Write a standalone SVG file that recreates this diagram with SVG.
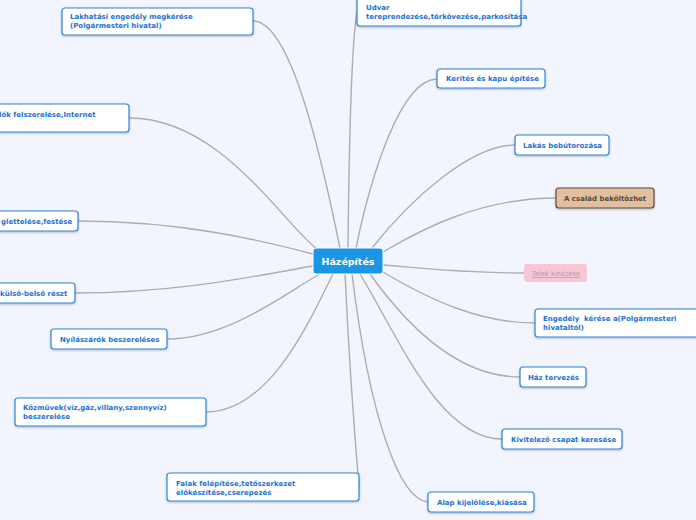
<svg xmlns="http://www.w3.org/2000/svg" width="696" height="520" viewBox="0 0 696 520">
<defs>
<filter id="sh" x="-10%" y="-30%" width="120%" height="170%">
<feDropShadow dx="0" dy="1" stdDeviation="0.8" flood-color="#000" flood-opacity="0.25"/>
</filter>
<style>
.n rect{fill:#fff;stroke:#2f84dc;stroke-width:1.2;filter:url(#sh)}
.n text{font-family:"DejaVu Sans",Verdana,sans-serif;font-weight:bold;font-size:7px;fill:#1d72d6}
.c path{fill:none;stroke:#adadb0;stroke-width:1.4}
</style>
</defs>
<rect width="696" height="520" fill="#f2f5fd"/>
<g class="c" id="connectors">
<path d="M253,21 C290,21 320,150 340,248"/>
<path d="M129,118 C220,118 280,220 318,250"/>
<path d="M78,221 C180,221 260,240 313,254"/>
<path d="M75,293 C180,293 260,275 313,266"/>
<path d="M167,339 C230,339 290,290 320,274"/>
<path d="M206,412 C270,412 310,320 333,274"/>
<path d="M359,487 C355,440 350,380 345,274"/>
<path d="M357,12 C352,40 349,150 348,248"/>
<path d="M437,79 C400,79 370,180 356,248"/>
<path d="M515,145 C470,145 410,200 372,248"/>
<path d="M556,198 C480,198 420,230 383,252"/>
<path d="M524,273 C460,273 420,268 383,265"/>
<path d="M535,323 C480,323 430,300 383,272"/>
<path d="M520,377 C460,377 410,330 370,274"/>
<path d="M502,439 C440,439 400,340 360,274"/>
<path d="M428,502 C400,500 370,420 352,274"/>
</g>
<g id="center">
<rect x="313" y="248" width="70" height="26" rx="3" fill="#1b96e6" stroke="#fff" stroke-width="1"/>
<text x="348" y="264.5" text-anchor="middle" font-family="DejaVu Sans,Verdana,sans-serif" font-weight="bold" font-size="9.5" fill="#fff">Házépítés</text>
</g>
<g class="n" id="n-lakhatasi"><rect x="62" y="8" width="191" height="27" rx="3"/><text x="70" y="19">Lakhatási engedély megkérése</text><text x="70" y="28">(Polgármesteri hivatal)</text></g>
<g class="n" id="n-internet"><rect x="-10" y="104" width="139" height="28" rx="3"/><text x="-1" y="117">lók felszerelése,Internet</text></g>
<g class="n" id="n-glett"><rect x="-10" y="211" width="88" height="20" rx="3"/><text x="1" y="223.5">glettelése,festése</text></g>
<g class="n" id="n-kulso"><rect x="-10" y="283" width="85" height="20" rx="3"/><text x="0" y="295.5">külső-belső részt</text></g>
<g class="n" id="n-nyilas"><rect x="51" y="329" width="116" height="20" rx="3"/><text x="60" y="341.5">Nyílászárók beszereléses</text></g>
<g class="n" id="n-kozmu"><rect x="15" y="398" width="191" height="28" rx="3"/><text x="23" y="409.5">Közművek(víz,gáz,villany,szennyvíz)</text><text x="23" y="418.5">beszerelése</text></g>
<g class="n" id="n-falak"><rect x="167" y="473" width="192" height="28" rx="3"/><text x="176" y="485.5">Falak felépítése,tetőszerkezet</text><text x="176" y="494.5">előkészítése,cserepezés</text></g>
<g class="n" id="n-udvar"><rect x="357" y="-4" width="164" height="30" rx="3"/><text x="366" y="9.5">Udvar</text><text x="366" y="18.5">tereprendezése,térkövezése,parkosítása</text></g>
<g class="n" id="n-kerites"><rect x="437" y="69" width="108" height="19" rx="3"/><text x="446" y="81">Kerítés és kapu építése</text></g>
<g class="n" id="n-lakas"><rect x="515" y="135" width="94" height="20" rx="3"/><text x="523" y="147.5">Lakás bebútorozása</text></g>
<g id="n-csalad"><rect x="556" y="188" width="98" height="20" rx="3" fill="#e1bf9f" stroke="#5e4a38" stroke-width="1.2" filter="url(#sh)"/><text x="564" y="200.5" font-family="DejaVu Sans,Verdana,sans-serif" font-weight="bold" font-size="7" fill="#5a4636">A család beköltözhet</text></g>
<g id="n-telek"><rect x="524" y="264" width="63" height="18" rx="3" fill="#f8c7d3"/><text x="532" y="276" font-family="DejaVu Sans,Verdana,sans-serif" font-size="7" fill="#bb92b4" text-decoration="underline" textLength="48" lengthAdjust="spacingAndGlyphs">Telek kinézése</text></g>
<g class="n" id="n-engedely"><rect x="535" y="309" width="170" height="28" rx="3"/><text x="543" y="320.5" xml:space="preserve">Engedély  kérése a(Polgármesteri</text><text x="543" y="329.5">hivataltól)</text></g>
<g class="n" id="n-haz"><rect x="520" y="367" width="66" height="20" rx="3"/><text x="528" y="379.5">Ház tervezés</text></g>
<g class="n" id="n-kivit"><rect x="502" y="429" width="120" height="20" rx="3"/><text x="511" y="441.5">Kivitelező csapat keresése</text></g>
<g class="n" id="n-alap"><rect x="428" y="492" width="106" height="20" rx="3"/><text x="437" y="504.5">Alap kijelölése,kiásása</text></g>
</svg>
